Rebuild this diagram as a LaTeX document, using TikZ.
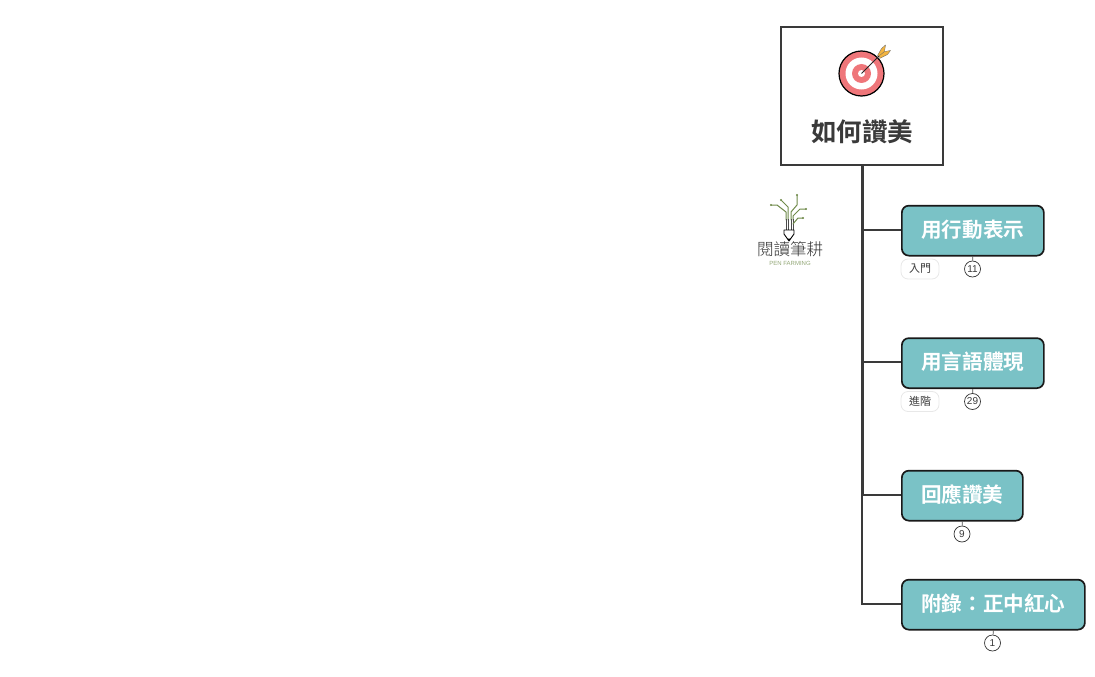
\documentclass[tikz,border=0pt]{standalone}
\usepackage{fontspec}
\newfontfamily\cjk{Noto Sans CJK TC}[BoldFont={Noto Sans CJK TC Bold}]
\newfontfamily\cjklight{Noto Sans CJK TC Light}
\setmainfont{Liberation Sans}
\definecolor{teal1}{HTML}{7AC2C6}
\definecolor{ink}{HTML}{3A3A3A}
\definecolor{redt}{HTML}{EF767A}
\definecolor{leaf}{HTML}{6F8A4A}
\definecolor{pillb}{HTML}{E8E8E8}
\definecolor{fletch}{HTML}{F2B440}
\tikzset{
  x=1pt,y=-1pt,
  topicbox/.style={draw=black!90,line width=1.7pt,fill=teal1,rounded corners=7pt,minimum height=50pt,text=white,font=\cjk\bfseries\fontsize{20.6}{22}\selectfont,inner sep=0pt,anchor=north west,text height=15pt,text depth=1.8pt},
  rootbox/.style={draw=ink,line width=2pt,fill=white,minimum width=162pt,minimum height=138pt,anchor=north west,inner sep=0pt},
  roottext/.style={text=ink,font=\cjk\bfseries\fontsize{25.5}{27}\selectfont,inner sep=0pt},
  branch/.style={draw=ink,line width=2pt},
  trunkline/.style={draw=ink,line width=2.6pt},
  badge/.style={circle,draw=black!80,line width=.7pt,fill=white,minimum size=16pt,inner sep=0pt,font=\fontsize{10}{11}\selectfont,text=ink},
  pill/.style={draw=pillb,line width=.8pt,fill=white,rounded corners=7pt,minimum width=38pt,minimum height=20pt,inner sep=0pt,font=\cjk\fontsize{11}{12}\selectfont,text=ink},
  tick/.style={draw=black!70,line width=.7pt},
  circuit/.style={draw=leaf,line width=1pt,line cap=round,line join=round},
  circuitlow/.style={draw=black!70,line width=.9pt},
}
\begin{document}
\begin{tikzpicture}
\useasboundingbox (0,0) rectangle (1095,677);
\node[rootbox] (root) at (780.2,26.2) {};
\node[roottext] (title) at (862,132) {如何讚美};
\node[topicbox,minimum width=142pt] (t1) at (901,204.8) {用行動表示};
\node[topicbox,minimum width=142pt] (t2) at (901,337.3) {用言語體現};
\node[topicbox,minimum width=121pt] (t3) at (901,469.8) {回應讚美};
\node[topicbox,minimum width=183pt] (t4) at (901,578.8) {附錄：正中紅心};
\coordinate (e1) at ([yshift=.8pt]t1.west);
\coordinate (e2) at ([yshift=.8pt]t2.west);
\coordinate (e3) at ([yshift=.8pt]t3.west);
\coordinate (e4) at ([yshift=.8pt]t4.west);
\draw[trunkline] (root.south) -- (root.south |- e3);
\draw[branch,line join=miter] (root.south |- e3) |- (e4);
\draw[branch] (root.south |- e1) -- (e1);
\draw[branch] (root.south |- e2) -- (e2);
\draw[branch] (root.south |- e3) -- (e3);
\node[badge] (b1) at (972.5,269) {11};
\node[badge] (b2) at (972.5,401.5) {29};
\node[badge] (b3) at (962,534) {9};
\node[badge] (b4) at (992.5,643) {1};
\draw[tick] (t1.south) -- (b1);
\draw[tick] (t2.south) -- (b2);
\draw[tick] (t3.south) -- (b3);
\draw[tick] (t4.south) -- (b4);
\node[pill] (p1) at (920,269) {入門};
\node[pill] (p2) at (920,401.5) {進階};
% target icon
\begin{scope}[shift={(861.5,73.5)}]
\fill[redt] (0,0) circle (22.5);
\draw[black,line width=1.2pt] (0,0) circle (22.5);
\fill[white] (0,0) circle (16);
\fill[redt] (0,0) circle (9.5);
\fill[white] (0,0) circle (3.5);
\draw[black!85,line width=.8pt] (0,0) -- (18,-18);
\fill[fletch,draw=black!60,line width=.3pt] (16,-18) -- (20,-25) -- (24,-28.5) -- (23,-22) -- (19,-17) -- cycle;
\fill[fletch,draw=black!60,line width=.3pt] (18,-15) -- (26,-19) -- (29,-23) -- (23,-22) -- (18,-18) -- cycle;
\end{scope}
% logo
\begin{scope}[shift={(789,0)}]
\draw[circuit] (-3,220) -- (-3,212) -- (-12,205) -- (-18,205);
\draw[circuit] (-1,220) -- (-1,207) -- (-8,200);
\draw[circuit] (2,220) -- (2,212) -- (8,205) -- (8,195);
\draw[circuit] (4,220) -- (4,216) -- (11,209) -- (17,209);
\draw[circuitlow] (-3,219) -- (-3,230) (-1,219) -- (-1,230) (2,219) -- (2,230) (4,219) -- (4,230);
\draw[circuit] (4,224) -- (9,218) -- (14,218);
\fill[leaf] (-18,205) circle (1.2) (-8,200) circle (1.2) (8,195) circle (1.2) (17,209) circle (1.2) (14,218) circle (1.2);
\draw[black,line width=.9pt,line join=round] (-5,230) -- (5,230) -- (5,234) -- (0,241) -- (-5,234) -- cycle;
\fill[black] (0,241) -- (-1.6,238.5) -- (1.6,238.5) -- cycle;
\end{scope}
\node[inner sep=0pt,text=black!80,font=\cjklight\fontsize{16.5}{18}\selectfont] (logo) at (790,249.5) {閱讀筆耕};
\node[inner sep=0pt,text=leaf!75,font=\fontsize{6}{6}\selectfont] (logosub) at (790,263.3) {PEN FARMING};
\end{tikzpicture}
\end{document}
